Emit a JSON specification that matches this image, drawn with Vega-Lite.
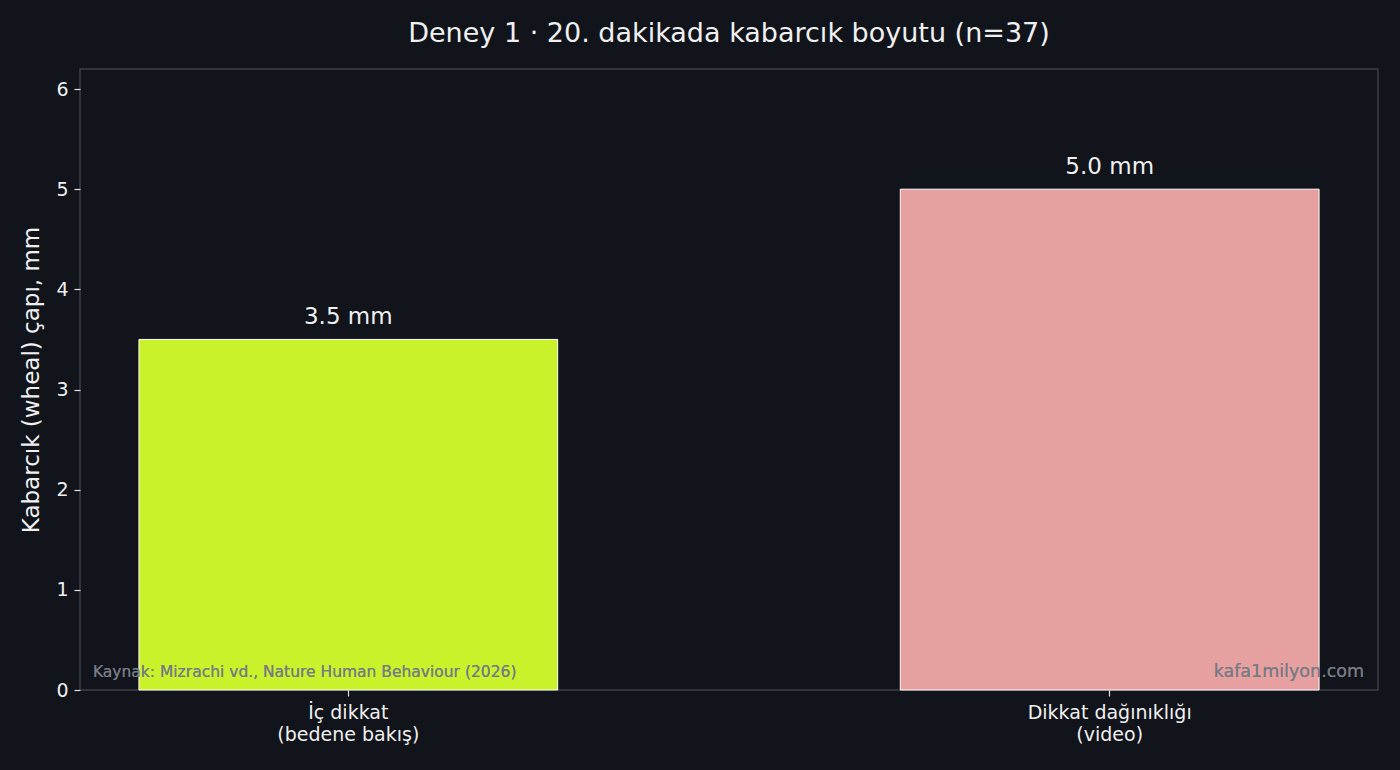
{
  "$schema": "https://vega.github.io/schema/vega-lite/v6.json",
  "autosize": {"type": "none"},
  "padding": {"left": 80, "top": 69, "right": 22, "bottom": 80},
  "width": 1298,
  "height": 621,
  "background": "#11141b",
  "title": {
    "text": "Deney 1 · 20. dakikada kabarcık boyutu (n=37)",
    "font": "DejaVu Sans",
    "fontSize": 27,
    "fontWeight": "normal",
    "color": "#f0f0f0",
    "anchor": "middle",
    "offset": 21
  },
  "config": {
    "font": "DejaVu Sans",
    "view": {"stroke": "#3b3f48", "strokeWidth": 1.5, "fill": "#11141b"},
    "axis": {
      "domain": false,
      "grid": false,
      "tickColor": "#e0e0e0",
      "tickSize": 6,
      "tickWidth": 1.2,
      "labelColor": "#f0f0f0",
      "labelFont": "DejaVu Sans",
      "titleFont": "DejaVu Sans",
      "titleColor": "#f0f0f0",
      "titleFontWeight": "normal"
    }
  },
  "data": {
    "values": [
      {"grup": "İç dikkat\n(bedene bakış)", "cap": 3.5, "etiket": "3.5 mm"},
      {"grup": "Dikkat dağınıklığı\n(video)", "cap": 5.0, "etiket": "5.0 mm"}
    ]
  },
  "layer": [
    {
      "mark": {"type": "bar", "stroke": "#ffffff", "strokeWidth": 1},
      "encoding": {
        "x": {
          "field": "grup",
          "type": "nominal",
          "sort": null,
          "scale": {"paddingInner": 0.45, "paddingOuter": 0.0774},
          "axis": {
            "title": null,
            "labelAngle": 0,
            "labelFontSize": 19,
            "labelPadding": 7,
            "labelLineHeight": 22,
            "labelExpr": "split(datum.label, '\\n')"
          }
        },
        "y": {
          "field": "cap",
          "type": "quantitative",
          "scale": {"domain": [0, 6.2], "nice": false},
          "axis": {
            "title": "Kabarcık (wheal) çapı, mm",
            "titleFontSize": 23,
            "titlePadding": 12,
            "labelFontSize": 19,
            "labelPadding": 6,
            "format": "d",
            "values": [0, 1, 2, 3, 4, 5, 6]
          }
        },
        "color": {
          "field": "grup",
          "type": "nominal",
          "sort": null,
          "scale": {"range": ["#c9f22b", "#e7a0a0"]},
          "legend": null
        }
      }
    },
    {
      "mark": {"type": "text", "fontSize": 23, "color": "#f0f0f0", "baseline": "bottom", "dy": -10},
      "encoding": {
        "x": {"field": "grup", "type": "nominal", "sort": null},
        "y": {"field": "cap", "type": "quantitative"},
        "text": {"field": "etiket"}
      }
    },
    {
      "mark": {"type": "text", "fontSize": 15.5, "color": "#777b84", "align": "left", "baseline": "middle", "dx": -46},
      "encoding": {
        "x": {"datum": "İç dikkat\n(bedene bakış)", "bandPosition": 0},
        "y": {"datum": 0.18},
        "text": {"value": "Kaynak: Mizrachi vd., Nature Human Behaviour (2026)"}
      }
    },
    {
      "mark": {"type": "text", "fontSize": 17.5, "color": "#777b84", "align": "right", "baseline": "middle", "dx": 45},
      "encoding": {
        "x": {"datum": "Dikkat dağınıklığı\n(video)", "bandPosition": 1},
        "y": {"datum": 0.18},
        "text": {"value": "kafa1milyon.com"}
      }
    }
  ]
}
